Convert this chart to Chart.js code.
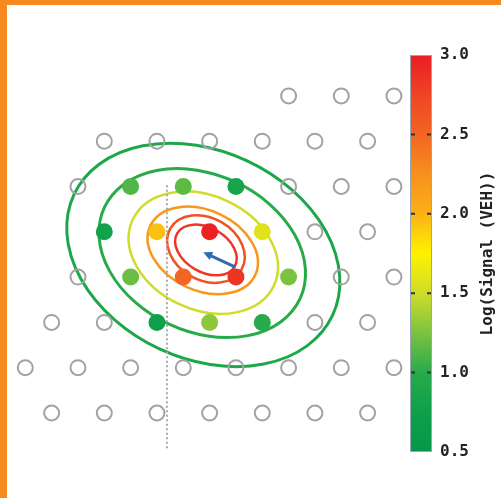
<!DOCTYPE html>
<html>
<head>
<meta charset="utf-8">
<script src="https://cdn.jsdelivr.net/npm/chart.js@4"></script>
<style>
html, body { margin: 0; padding: 0; background: #fff; }
#wrap { position: relative; width: 501px; height: 498px; box-sizing: border-box; border-top: 5px solid #f7891f; border-left: 7px solid #f7891f; }
#chart { position: absolute; left: -7px; top: -5px; }
</style>
</head>
<body>
<div id="wrap"><canvas id="chart" width="501" height="498"></canvas></div>
<script>
// sensor grid, hex layout (column, row index)
var openX = [5, 6, 7,
    1.5, 2.5, 3.5, 4.5, 5.5, 6.5,
    1, 5, 6, 7,
    5.5, 6.5,
    1, 6, 7,
    0.5, 1.5, 5.5, 6.5,
    0, 1, 2, 3, 4, 5, 6, 7,
    0.5, 1.5, 2.5, 3.5, 4.5, 5.5, 6.5];
var openY = [7, 7, 7,
    6, 6, 6, 6, 6, 6,
    5, 5, 5, 5,
    4, 4,
    3, 3, 3,
    2, 2, 2, 2,
    1, 1, 1, 1, 1, 1, 1, 1,
    0, 0, 0, 0, 0, 0, 0];

// sensors with signal
var hitX = [2, 3, 4, 1.5, 2.5, 3.5, 4.5, 2, 3, 4, 5, 2.5, 3.5, 4.5];
var hitY = [5, 5, 5, 4, 4, 4, 4, 3, 3, 3, 3, 2, 2, 2];
var hitSignal = [1.12, 1.16, 0.85, 0.8, 1.94, 2.97, 1.58, 1.2, 2.5, 2.85, 1.25, 0.75, 1.3, 1.0];

// contour ellipses (centre, semi axes in grid units, tilt in degrees)
var contourLevel = [0.9, 1.0, 1.5, 2.2, 2.65, 2.85];
var contourCx = [3.38, 3.36, 3.38, 3.37, 3.43, 3.43];
var contourCy = [3.49, 3.53, 3.54, 3.59, 3.62, 3.60];
var contourA = [2.71, 2.05, 1.48, 1.10, 0.78, 0.63];
var contourB = [1.97, 1.49, 1.08, 0.76, 0.59, 0.42];
var contourTilt = [25, 25, 25, 25, 30, 30];

// estimated source direction
var arrowFrom = [3.99, 3.22];
var arrowTo = [3.38, 3.55];

// dotted guide
var guideX = [2.69, 2.69];
var guideY = [5.03, -0.82];

// colour bar
var barTicks = [0.5, 1.0, 1.5, 2.0, 2.5, 3.0];
var colorStops = [0.5, 0.75, 1.0, 1.25, 1.5, 1.75, 2.0, 2.25, 2.5, 2.75, 3.0];
var colorValues = ['#07964a', '#0ea04a', '#27ab4a', '#7cc242', '#cfdc28', '#fff200',
    '#fbb116', '#f7901e', '#f26522', '#ee4524', '#ec1c24'];

function hexToRgb(h) {
    return [parseInt(h.substr(1, 2), 16), parseInt(h.substr(3, 2), 16), parseInt(h.substr(5, 2), 16)];
}

function signalColor(v) {
    if (v <= colorStops[0]) return colorValues[0];
    for (var i = 1; i < colorStops.length; i++) {
        if (v <= colorStops[i]) {
            var t = (v - colorStops[i - 1]) / (colorStops[i] - colorStops[i - 1]);
            var a = hexToRgb(colorValues[i - 1]);
            var b = hexToRgb(colorValues[i]);
            var c = [0, 1, 2].map(function(k) { return Math.round(a[k] + (b[k] - a[k]) * t); });
            return 'rgb(' + c.join(',') + ')';
        }
    }
    return colorValues[colorValues.length - 1];
}

var monoFont = "'DejaVu Sans Mono', monospace";

var mapExtras = {
    id: 'mapExtras',
    beforeDatasetsDraw: function(chart) {
        var ctx = chart.ctx;
        var xs = chart.scales.x, ys = chart.scales.y, cs = chart.scales.c;
        var unit = xs.getPixelForValue(1) - xs.getPixelForValue(0);

        // colour bar
        var right = chart.chartArea.right;
        var left = right - 22;
        var top = cs.getPixelForValue(3.0);
        var bottom = cs.getPixelForValue(0.5);
        var grad = ctx.createLinearGradient(0, top, 0, bottom);
        for (var i = 0; i < colorStops.length; i++) {
            grad.addColorStop((cs.getPixelForValue(colorStops[i]) - top) / (bottom - top), colorValues[i]);
        }
        ctx.save();
        ctx.fillStyle = grad;
        ctx.fillRect(left, top, right - left, bottom - top);
        ctx.strokeStyle = '#9aa6b4';
        ctx.lineWidth = 1;
        ctx.strokeRect(left + 0.5, top + 0.5, right - left - 1, bottom - top - 1);
        ctx.strokeStyle = '#333';
        ctx.lineWidth = 2;
        barTicks.forEach(function(v) {
            if (v == 0.5 || v == 3.0) return;
            var py = cs.getPixelForValue(v);
            ctx.beginPath();
            ctx.moveTo(left + 1, py); ctx.lineTo(left + 5, py);
            ctx.moveTo(right - 5, py); ctx.lineTo(right - 1, py);
            ctx.stroke();
        });

        // axis title, reads bottom to top
        ctx.translate(right + 56, (top + bottom) / 2);
        ctx.rotate(-Math.PI / 2);
        ctx.fillStyle = '#222';
        ctx.font = 'bold 16px ' + monoFont;
        ctx.textAlign = 'center';
        ctx.textBaseline = 'middle';
        ctx.fillText('Log(Signal (VEH))', 0, 0);
        ctx.restore();

        // contours
        ctx.save();
        for (var j = 0; j < contourLevel.length; j++) {
            ctx.beginPath();
            ctx.ellipse(xs.getPixelForValue(contourCx[j]), ys.getPixelForValue(contourCy[j]),
                contourA[j] * unit, contourB[j] * unit, contourTilt[j] * Math.PI / 180, 0, 2 * Math.PI);
            ctx.strokeStyle = signalColor(contourLevel[j]);
            ctx.lineWidth = j < 2 ? 3 : 2.5;
            ctx.stroke();
        }
        ctx.restore();
    },
    afterDatasetsDraw: function(chart) {
        var ctx = chart.ctx;
        var xs = chart.scales.x, ys = chart.scales.y;
        var x0 = xs.getPixelForValue(arrowFrom[0]), y0 = ys.getPixelForValue(arrowFrom[1]);
        var x1 = xs.getPixelForValue(arrowTo[0]), y1 = ys.getPixelForValue(arrowTo[1]);
        var ang = Math.atan2(y1 - y0, x1 - x0);
        var head = 10;
        ctx.save();
        ctx.strokeStyle = '#2b6cb5';
        ctx.fillStyle = '#2b6cb5';
        ctx.lineWidth = 3;
        ctx.beginPath();
        ctx.moveTo(x0, y0);
        ctx.lineTo(x1 - Math.cos(ang) * head * 0.8, y1 - Math.sin(ang) * head * 0.8);
        ctx.stroke();
        ctx.beginPath();
        ctx.moveTo(x1, y1);
        ctx.lineTo(x1 - head * Math.cos(ang - 0.45), y1 - head * Math.sin(ang - 0.45));
        ctx.lineTo(x1 - head * Math.cos(ang + 0.45), y1 - head * Math.sin(ang + 0.45));
        ctx.closePath();
        ctx.fill();
        ctx.restore();
    }
};

var ctx = document.getElementById('chart');
var myChart = new Chart(ctx, {
    type: 'scatter',
    data: {
        datasets: [
        {
            data: hitX.map(function(x, i) { return {x: x, y: hitY[i]}; }),
            pointRadius: 8.5,
            borderWidth: 0,
            backgroundColor: hitSignal.map(signalColor),
            clip: false
        },
        {
            type: 'line',
            data: guideX.map(function(x, i) { return {x: x, y: guideY[i]}; }),
            borderColor: '#a9a9a9',
            borderWidth: 2,
            borderDash: [2, 2.5],
            pointRadius: 0,
            fill: false,
            clip: false
        },
        {
            data: openX.map(function(x, i) { return {x: x, y: openY[i]}; }),
            pointRadius: 7.5,
            borderWidth: 2,
            borderColor: '#a2a2a2',
            backgroundColor: 'rgba(255,255,255,0)',
            clip: false
        }
        ]
    },
    options: {
        responsive: false,
        devicePixelRatio: 1,
        animation: false,
        events: [],
        layout: { padding: { left: 9.2, top: 55, bottom: 46, right: 0 } },
        plugins: { legend: { display: false }, tooltip: { enabled: false } },
        scales: {
            x: { type: 'linear', display: false, min: -0.3, max: 7.723 },
            y: { type: 'linear', display: false, min: -0.861, max: 7.903 },
            c: {
                type: 'linear',
                position: 'right',
                min: 0.5,
                max: 3.0,
                grid: { display: false, drawTicks: false },
                border: { display: false },
                ticks: {
                    stepSize: 0.5,
                    padding: 8,
                    color: '#222',
                    font: { family: monoFont, weight: 'bold', size: 16 },
                    callback: function(v) { return v.toFixed(1); }
                },
                afterFit: function(scale) { scale.width = 69; }
            }
        }
    },
    plugins: [mapExtras]
});
</script>
</body>
</html>
